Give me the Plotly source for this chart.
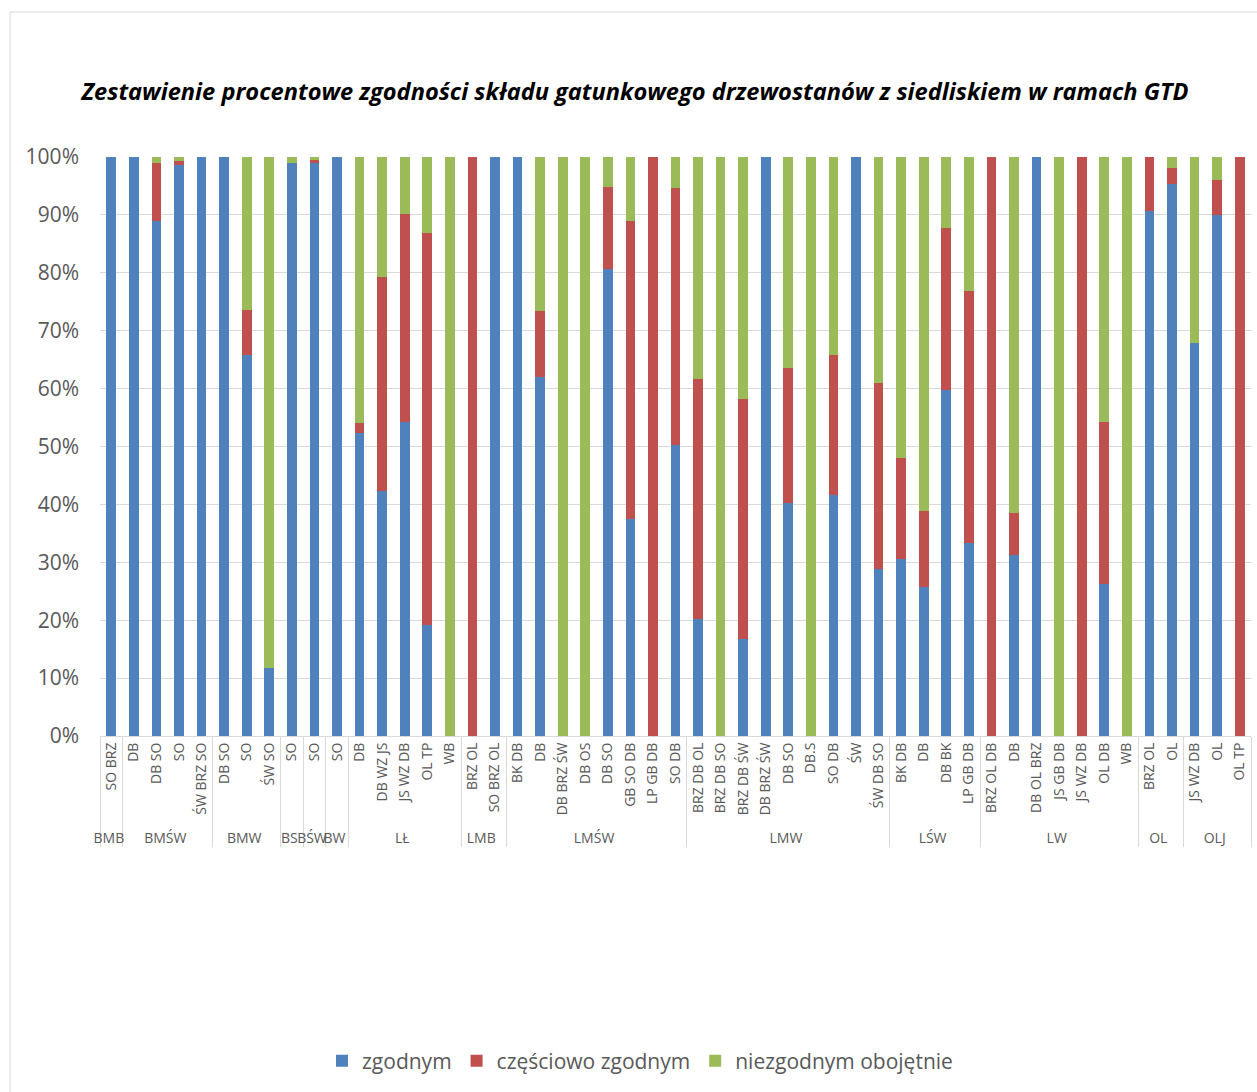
import plotly.graph_objects as go

# Forest habitat groups (GTD) and stand species compositions
groups = (["BMB"] + ["BMŚW"] * 4 + ["BMW"] * 3 + ["BS"] + ["BŚW"] + ["BW"]
          + ["LŁ"] * 5 + ["LMB"] * 2 + ["LMŚW"] * 8 + ["LMW"] * 9
          + ["LŚW"] * 4 + ["LW"] * 7 + ["OL"] * 2 + ["OLJ"] * 3)

stands = ["SO BRZ",
          "DB", "DB SO", "SO", "ŚW BRZ SO",
          "DB SO", "SO", "ŚW SO",
          "SO",
          "SO",
          "SO",
          "DB", "DB WZ JS", "JS WZ DB", "OL TP", "WB",
          "BRZ OL", "SO BRZ OL",
          "BK DB", "DB", "DB BRZ ŚW", "DB OS", "DB SO", "GB SO DB", "LP GB DB", "SO DB",
          "BRZ DB OL", "BRZ DB SO", "BRZ DB ŚW", "DB BRZ ŚW", "DB SO", "DB.S", "SO DB", "ŚW", "ŚW DB SO",
          "BK DB", "DB", "DB BK", "LP GB DB",
          "BRZ OL DB", "DB", "DB OL BRZ", "JS GB DB", "JS WZ DB", "OL DB", "WB",
          "BRZ OL", "OL",
          "JS WZ DB", "OL", "OL TP"]

# Percentage shares per category
zgodnym = [100,
           100, 89.0, 98.6, 100,
           100, 65.8, 11.8,
           99.0,
           99.0,
           100,
           52.3, 42.4, 54.3, 19.1, 0,
           0, 100,
           100, 62.0, 0, 0, 80.6, 37.5, 0, 50.3,
           20.2, 0, 16.7, 100, 40.3, 0, 41.6, 100, 28.8,
           30.5, 25.8, 59.8, 33.4,
           0, 31.3, 100, 0, 0, 26.2, 0,
           90.6, 95.4,
           67.8, 89.9, 0]

czesciowo = [0,
             0, 10.0, 0.7, 0,
             0, 7.8, 0,
             0,
             0.5,
             0,
             1.8, 36.9, 35.9, 67.7, 0,
             100, 0,
             0, 11.4, 0, 0, 14.2, 51.5, 100, 44.3,
             41.4, 0, 41.5, 0, 23.3, 0, 24.2, 0, 32.1,
             17.6, 13.1, 27.9, 43.4,
             100, 7.2, 0, 0, 100, 28.1, 0,
             9.4, 2.7,
             0, 6.2, 100]

niezgodnym = [round(100 - a - b, 1) for a, b in zip(zgodnym, czesciowo)]

series = [
    ("zgodnym", zgodnym, "#4F81BD"),
    ("częściowo zgodnym", czesciowo, "#C0504D"),
    ("niezgodnym obojętnie", niezgodnym, "#9BBB59"),
]

# Multicategory axes order inner labels by their first appearance anywhere,
# so repeated stand names get an invisible suffix to keep the listed order.
seen = {}
stand_keys = []
for s in stands:
    n = seen.get(s, 0)
    seen[s] = n + 1
    stand_keys.append(s + "\u200b" * n)

fig = go.Figure()
for name, vals, color in series:
    fig.add_trace(go.Bar(
        name=name,
        x=[groups, stand_keys],
        y=vals,
        marker=dict(color=color, line=dict(width=0)),
    ))

W, H = 1257, 1092
ml, mr, mt, mb = 100, 6, 157, 356
pw, ph = W - ml - mr, H - mt - mb

fig.update_layout(
    width=W, height=H,
    barmode="stack",
    bargap=0.57,
    margin=dict(l=ml, r=mr, t=mt, b=mb),
    paper_bgcolor="white",
    plot_bgcolor="white",
    font=dict(family="Open Sans, Lato, sans-serif", color="#595959"),
    title=dict(
        text="<b><i>Zestawienie procentowe zgodności składu gatunkowego drzewostanów z siedliskiem w ramach GTD</i></b>",
        x=(635 - ml) / pw, xanchor="center", xref="paper",
        y=1 - 92 / H, yanchor="middle",
        font=dict(size=23.6, color="#000000", family="Open Sans, Lato, sans-serif"),
    ),
    legend=dict(
        orientation="h",
        x=(640 - ml) / pw, xanchor="center",
        y=(mt + ph - 1061) / ph, yanchor="middle",
        font=dict(size=21, color="#595959"),
        itemwidth=30,
        traceorder="normal",
    ),
    xaxis=dict(
        type="multicategory",
        tickangle=-90,
        tickfont=dict(size=14, color="#595959"),
        showline=True, linecolor="#d9d9d9", linewidth=1,
        showdividers=True, dividercolor="#d9d9d9", dividerwidth=1,
        ticks="",
        showgrid=False,
    ),
    yaxis=dict(
        range=[0, 100],
        dtick=10,
        ticksuffix="%",
        tickfont=dict(size=21, color="#595959"),
        gridcolor="#d9d9d9",
        gridwidth=1,
        zeroline=False,
        showline=False,
        ticklabelstandoff=20,
    ),
    shapes=[dict(
        type="rect", xref="paper", yref="paper",
        x0=(10 - ml) / pw, x1=(W + 5 - ml) / pw,
        y0=(mt + ph - H - 5) / ph, y1=(mt + ph - 12) / ph,
        line=dict(color="#d9d9d9", width=1),
        fillcolor="rgba(0,0,0,0)",
        layer="below",
    )],
)

fig.write_html("out.html")
